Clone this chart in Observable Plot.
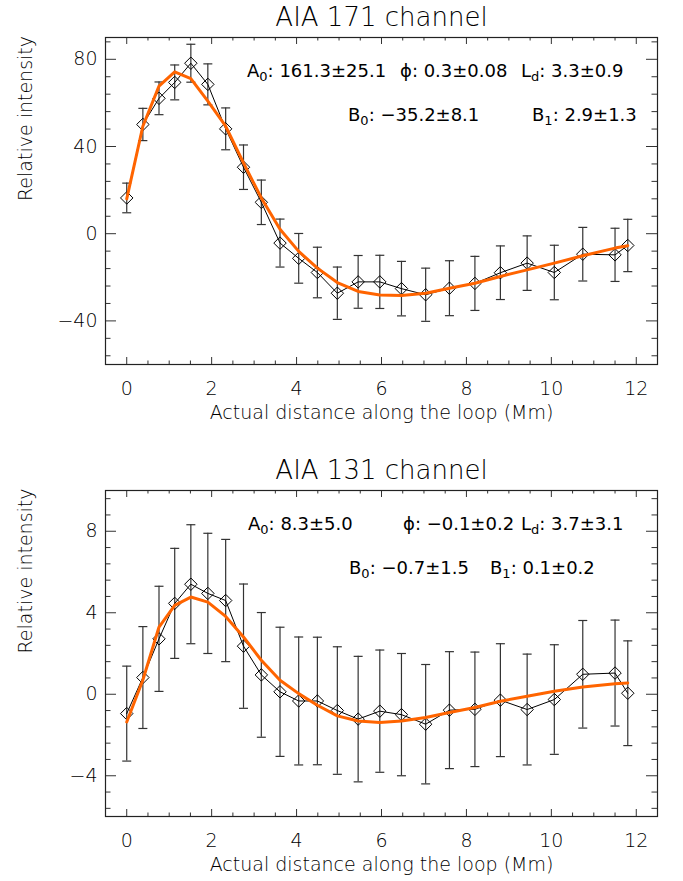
<!DOCTYPE html>
<html><head><meta charset="utf-8">
<script src="https://cdn.jsdelivr.net/npm/d3@7"></script>
<script src="https://cdn.jsdelivr.net/npm/@observablehq/plot@0.6"></script>
<style>
html,body{margin:0;padding:0;background:#fff;}
#chart svg{display:block;}
</style></head><body><div id="chart"></div>
<script>
// ---- data ----
const distance = [0, 0.38, 0.76, 1.13, 1.51, 1.91, 2.33, 2.75, 3.17, 3.61, 4.05, 4.49, 4.96, 5.45, 5.96, 6.47, 7.04, 7.6, 8.2, 8.8, 9.43, 10.07, 10.74, 11.5, 11.8];

const aia171Values = [16.4, 50.1, 62.1, 69.4, 78.2, 68.5, 48.1, 30.5, 14.4, -4.3, -11.3, -17.8, -27.3, -22.1, -22.1, -25.2, -28, -25, -22.8, -17.9, -13.5, -17.8, -9.4, -9.7, -5.4];
const aia171Errors = [6.8, 7.4, 7.5, 8, 8.7, 9.4, 9.6, 10.2, 10.2, 11, 11.4, 11.6, 12, 12.1, 12.2, 12.5, 12.2, 12.6, 12.4, 12.3, 12.5, 12.5, 12.3, 12.2, 12];
const aia171Fit = [16, 49.3, 67.7, 74.2, 71.1, 60.8, 49.3, 32.5, 16.4, 2, -8.1, -15.8, -22.4, -26.5, -28.1, -28.4, -27.3, -25, -22.7, -19.6, -16.6, -13.5, -10.1, -6.6, -5.5];

const aia131Values = [-0.95, 0.82, 2.72, 4.46, 5.4, 4.95, 4.6, 2.36, 0.95, 0.12, -0.33, -0.33, -0.8, -1.22, -0.83, -1.0, -1.47, -0.78, -0.74, -0.29, -0.75, -0.26, 0.98, 1.04, 0.05];
const aia131Errors = [2.33, 2.5, 2.58, 2.7, 2.92, 2.95, 3.0, 3.05, 3.06, 3.17, 3.14, 3.13, 3.13, 3.08, 3.0, 3.0, 2.93, 2.87, 2.81, 2.77, 2.72, 2.69, 2.64, 2.6, 2.57];
const aia131Fit = [-1.36, 0.7, 3.3, 4.36, 4.77, 4.52, 3.82, 2.81, 1.67, 0.69, 0.03, -0.54, -1.06, -1.31, -1.39, -1.31, -1.14, -0.9, -0.65, -0.34, -0.1, 0.15, 0.36, 0.52, 0.55];

const xTicks = [0, 2, 4, 6, 8, 10, 12];
const yTicks171 = [-40, 0, 40, 80];
const yTicks131 = [-4, 0, 4, 8];
const titles = ["AIA 171 channel", "AIA 131 channel"];
const xLabel = "Actual distance along the loop (Mm)";
const yLabel = "Relative intensity";

const params171Names = ["A", "\u03D5", "L", "B", "B"];
const params171Subs = ["0", "", "d", "0", "1"];
const params171Values = ["161.3\u00B125.1", "0.3\u00B10.08", "3.3\u00B10.9", "\u221235.2\u00B18.1", "2.9\u00B11.3"];
const params131Names = ["A", "\u03D5", "L", "B", "B"];
const params131Subs = ["0", "", "d", "0", "1"];
const params131Values = ["8.3\u00B15.0", "\u22120.1\u00B10.2", "3.7\u00B13.1", "\u22120.7\u00B11.5", "0.1\u00B10.2"];

// ---- layout ----
const W = 683, ML = 105, MR = 26;
const xDomain = [-0.5, 12.5];
const layout171 = {x: [247, 400, 521, 348, 532], row: [0, 0, 0, 1, 1]};
const layout131 = {x: [248, 403, 521, 349, 490], row: [0, 0, 0, 1, 1]};

const capSymbol = {draw(ctx, size) { const w = Math.sqrt(size / Math.PI); ctx.moveTo(-w, 0); ctx.lineTo(w, 0); }};

function minorTicks(domain, step, majorStep) {
  const out = [];
  for (let i = Math.ceil(domain[0] / step); i * step <= domain[1] + 1e-9; i++) {
    const v = +(i * step).toFixed(6);
    if (v <= domain[0] + 1e-9 || v >= domain[1] - 1e-9) continue;
    if (Math.abs(v / majorStep - Math.round(v / majorStep)) < 1e-6) continue;
    out.push(v);
  }
  return out;
}

function panel(cfg) {
  const H = cfg.height, FH = H - cfg.marginTop - cfg.marginBottom, FW = W - ML - MR;
  const data = distance.map((d, i) => ({x: d, y: cfg.values[i], lo: cfg.values[i] - cfg.errors[i], hi: cfg.values[i] + cfg.errors[i], fit: cfg.fit[i]}));
  const xMinor = minorTicks(xDomain, 0.5, 2);
  const yMinor = minorTicks(cfg.yDomain, cfg.yMinorStep, cfg.yMajorStep);
  const tickColor = "#333";
  const svg = Plot.plot({
    width: W, height: H, marginLeft: ML, marginRight: MR, marginTop: cfg.marginTop, marginBottom: cfg.marginBottom,
    style: {fontFamily: "DejaVu Sans", fontSize: "19px", fontWeight: 200, background: "white", color: "black", overflow: "visible"},
    x: {domain: xDomain, axis: null},
    y: {domain: cfg.yDomain, axis: null},
    marks: [
      Plot.ruleX(xTicks, {x: d => d, insetTop: FH - 7, stroke: tickColor}),
      Plot.ruleX(xTicks, {x: d => d, insetBottom: FH - 7, stroke: tickColor}),
      Plot.ruleX(xMinor, {x: d => d, insetTop: FH - 3.5, stroke: tickColor}),
      Plot.ruleX(xMinor, {x: d => d, insetBottom: FH - 3.5, stroke: tickColor}),
      Plot.ruleY(cfg.yTicks, {y: d => d, insetRight: FW - 11, stroke: tickColor}),
      Plot.ruleY(cfg.yTicks, {y: d => d, insetLeft: FW - 11, stroke: tickColor}),
      Plot.ruleY(yMinor, {y: d => d, insetRight: FW - 5.5, stroke: tickColor}),
      Plot.ruleY(yMinor, {y: d => d, insetLeft: FW - 5.5, stroke: tickColor}),
      Plot.frame({stroke: "#222", strokeWidth: 1.2}),
      Plot.axisX(xTicks, {tickSize: 0, tickPadding: 17, tickFormat: d3.format("d"), label: null}),
      Plot.axisY(cfg.yTicks, {tickSize: 0, tickPadding: 8, tickFormat: d3.format("d"), label: null}),
      Plot.text([cfg.title], {text: d => d, frameAnchor: "top", dy: -12, lineAnchor: "bottom", fontSize: 26}),
      Plot.text([xLabel], {text: d => d, frameAnchor: "bottom", dy: 48, lineAnchor: "middle"}),
      Plot.text([yLabel], {text: d => d, frameAnchor: "left", rotate: -90, dx: -80}),
      Plot.ruleX(data, {x: "x", y1: "lo", y2: "hi", stroke: "#333", strokeWidth: 1.2}),
      Plot.dot(data, {x: "x", y: "hi", symbol: capSymbol, r: 4.5, stroke: "#333", fill: "none", strokeWidth: 1.2}),
      Plot.dot(data, {x: "x", y: "lo", symbol: capSymbol, r: 4.5, stroke: "#333", fill: "none", strokeWidth: 1.2}),
      Plot.line(data, {x: "x", y: "y", stroke: "black", strokeWidth: 1}),
      Plot.dot(data, {x: "x", y: "y", symbol: "diamond2", r: 5.6, stroke: "black", fill: "none", strokeWidth: 1}),
      Plot.line(data, {x: "x", y: "fit", stroke: "#ff6400", strokeWidth: 3})
    ]
  });
  const g = d3.select(svg).append("g")
    .attr("font-family", "DejaVu Sans").attr("font-size", 18).attr("font-weight", 400)
    .attr("fill", "black").attr("text-anchor", "start");
  const rowY = [cfg.marginTop + 40, cfg.marginTop + 84];
  cfg.names.forEach((name, i) => {
    const t = g.append("text").attr("x", cfg.layout.x[i]).attr("y", rowY[cfg.layout.row[i]]).attr("text-anchor", "start");
    t.append("tspan").text(name);
    if (cfg.subs[i]) {
      t.append("tspan").attr("font-size", 13).attr("dy", 4).text(cfg.subs[i]);
      t.append("tspan").attr("dy", -4).text(": " + cfg.vals[i]);
    } else {
      t.append("tspan").text(": " + cfg.vals[i]);
    }
  });
  return svg;
}

const chart = document.getElementById("chart");
chart.appendChild(panel({
  height: 440, marginTop: 37, marginBottom: 76,
  values: aia171Values, errors: aia171Errors, fit: aia171Fit,
  yDomain: [-60, 90], yTicks: yTicks171, yMinorStep: 8, yMajorStep: 40,
  title: titles[0], names: params171Names, subs: params171Subs, vals: params171Values, layout: layout171
}));
chart.appendChild(panel({
  height: 441, marginTop: 50, marginBottom: 65,
  values: aia131Values, errors: aia131Errors, fit: aia131Fit,
  yDomain: [-6, 10], yTicks: yTicks131, yMinorStep: 0.8, yMajorStep: 4,
  title: titles[1], names: params131Names, subs: params131Subs, vals: params131Values, layout: layout131
}));
</script></body></html>
